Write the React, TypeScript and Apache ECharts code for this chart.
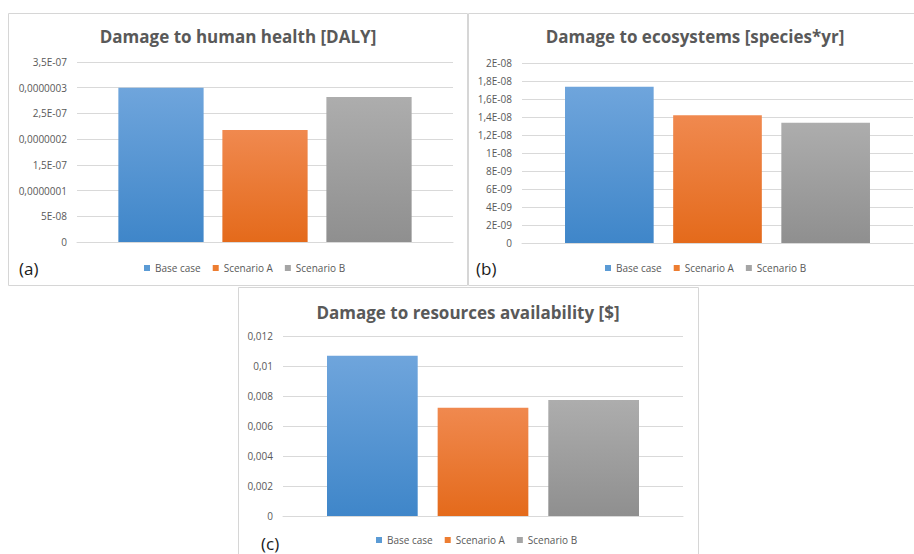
import React, { useEffect, useRef } from "react";
import * as echarts from "echarts";

const seriesNames = ["Base case", "Scenario A", "Scenario B"];
const healthValues = [3.0e-7, 2.18e-7, 2.82e-7];
const ecoValues = [1.737e-8, 1.42e-8, 1.337e-8];
const resourceValues = [0.01069, 0.00722, 0.00773];
const healthTicks = ["0", "5E-08", "0,0000001", "1,5E-07", "0,0000002", "2,5E-07", "0,0000003", "3,5E-07"];
const ecoTicks = ["0", "2E-09", "4E-09", "6E-09", "8E-09", "1E-08", "1,2E-08", "1,4E-08", "1,6E-08", "1,8E-08", "2E-08"];
const resourceTicks = ["0", "0,002", "0,004", "0,006", "0,008", "0,01", "0,012"];
const titles = ["Damage to human health [DALY]", "Damage to ecosystems [species*yr]", "Damage to resources availability [$]"];
const panelLabels = ["(a)", "(b)", "(c)"];

const FONT = "Open Sans";
const solidColors = ["#5b9bd5", "#ed7d31", "#a5a5a5"];
const gradStops = [
  ["#6fa5dc", "#3f86c9"],
  ["#f0894f", "#e46a1b"],
  ["#adadad", "#8f8f8f"],
];

const panels = [
  {
    values: healthValues, ticks: healthTicks, interval: 5e-8,
    grid: { left: 77, top: 62, width: 376, height: 180 },
    border: { x: 8.5, y: 13.5, width: 459, height: 272 },
    titleX: 238, titleY: 36, legendLeft: 139, legendTop: 258, labelX: 19, labelY: 268,
  },
  {
    values: ecoValues, ticks: ecoTicks, interval: 2e-9,
    grid: { left: 522, top: 63, width: 391, height: 180 },
    border: { x: 468.5, y: 13.5, width: 460, height: 272 },
    titleX: 695, titleY: 36, legendLeft: 600, legendTop: 258, labelX: 476, labelY: 268,
  },
  {
    values: resourceValues, ticks: resourceTicks, interval: 0.002,
    grid: { left: 283, top: 336, width: 400, height: 180 },
    border: { x: 238.5, y: 287.5, width: 460, height: 280 },
    titleX: 468, titleY: 312, legendLeft: 371, legendTop: 530, labelX: 261, labelY: 543,
  },
];

export default function App() {
  const ref = useRef<HTMLDivElement>(null);
  useEffect(() => {
    if (!ref.current) return;
    const chart = echarts.init(ref.current, null, { renderer: "svg" });
    const graphics: any[] = [];
    panels.forEach((p) => {
      graphics.push({
        type: "rect", shape: p.border, z: 0,
        style: { fill: "#ffffff", stroke: "#d6d6d6", lineWidth: 1 },
      });
    });
    panels.forEach((p, i) => {
      graphics.push({
        type: "text", x: p.titleX, y: p.titleY, z: 10,
        style: { text: titles[i], fontFamily: FONT, fontWeight: "bold", fontSize: 17, fill: "#595959", textAlign: "center", textVerticalAlign: "middle" },
      });
      graphics.push({
        type: "text", x: p.labelX, y: p.labelY, z: 10,
        style: { text: panelLabels[i], fontFamily: FONT, fontSize: 17, fill: "#1a1a1a", textAlign: "left", textVerticalAlign: "middle" },
      });
    });
    const series: any[] = [];
    panels.forEach((p, i) => {
      seriesNames.forEach((name, j) => {
        series.push({
          type: "bar", name, xAxisIndex: i, yAxisIndex: i,
          data: [p.values[j]],
          barGap: "22%", barCategoryGap: "22%",
          itemStyle: {
            color: new echarts.graphic.LinearGradient(0, 0, 0, 1, [
              { offset: 0, color: gradStops[j][0] },
              { offset: 1, color: gradStops[j][1] },
            ]),
          },
        });
      });
    });
    chart.setOption({
      animation: false,
      backgroundColor: "#ffffff",
      graphic: graphics,
      grid: panels.map((p) => ({ ...p.grid, containLabel: false })),
      xAxis: panels.map((p, i) => ({
        type: "category", gridIndex: i, data: [""],
        axisLine: { lineStyle: { color: "#d9d9d9" } },
        axisTick: { show: false }, axisLabel: { show: false },
      })),
      yAxis: panels.map((p, i) => ({
        type: "value", gridIndex: i, min: 0,
        max: p.interval * (p.ticks.length - 1), interval: p.interval,
        axisLine: { show: false }, axisTick: { show: false },
        splitLine: { lineStyle: { color: "#d9d9d9" } },
        axisLabel: {
          color: "#595959", fontFamily: FONT, fontSize: 10, margin: 10,
          formatter: (v: number) => p.ticks[Math.round(v / p.interval)] ?? "",
        },
      })),
      legend: panels.map((p) => ({
        left: p.legendLeft, top: p.legendTop, orient: "horizontal",
        icon: "rect", itemWidth: 6, itemHeight: 6, itemGap: 12,
        textStyle: { color: "#595959", fontFamily: FONT, fontSize: 10 },
        data: seriesNames.map((n, j) => ({ name: n, itemStyle: { color: solidColors[j] } })),
      })),
      series,
    });
    return () => chart.dispose();
  }, []);
  return (
    <div
      ref={ref}
      style={{ position: "fixed", left: 0, top: 0, width: 914, height: 554, background: "#fff" }}
    />
  );
}
